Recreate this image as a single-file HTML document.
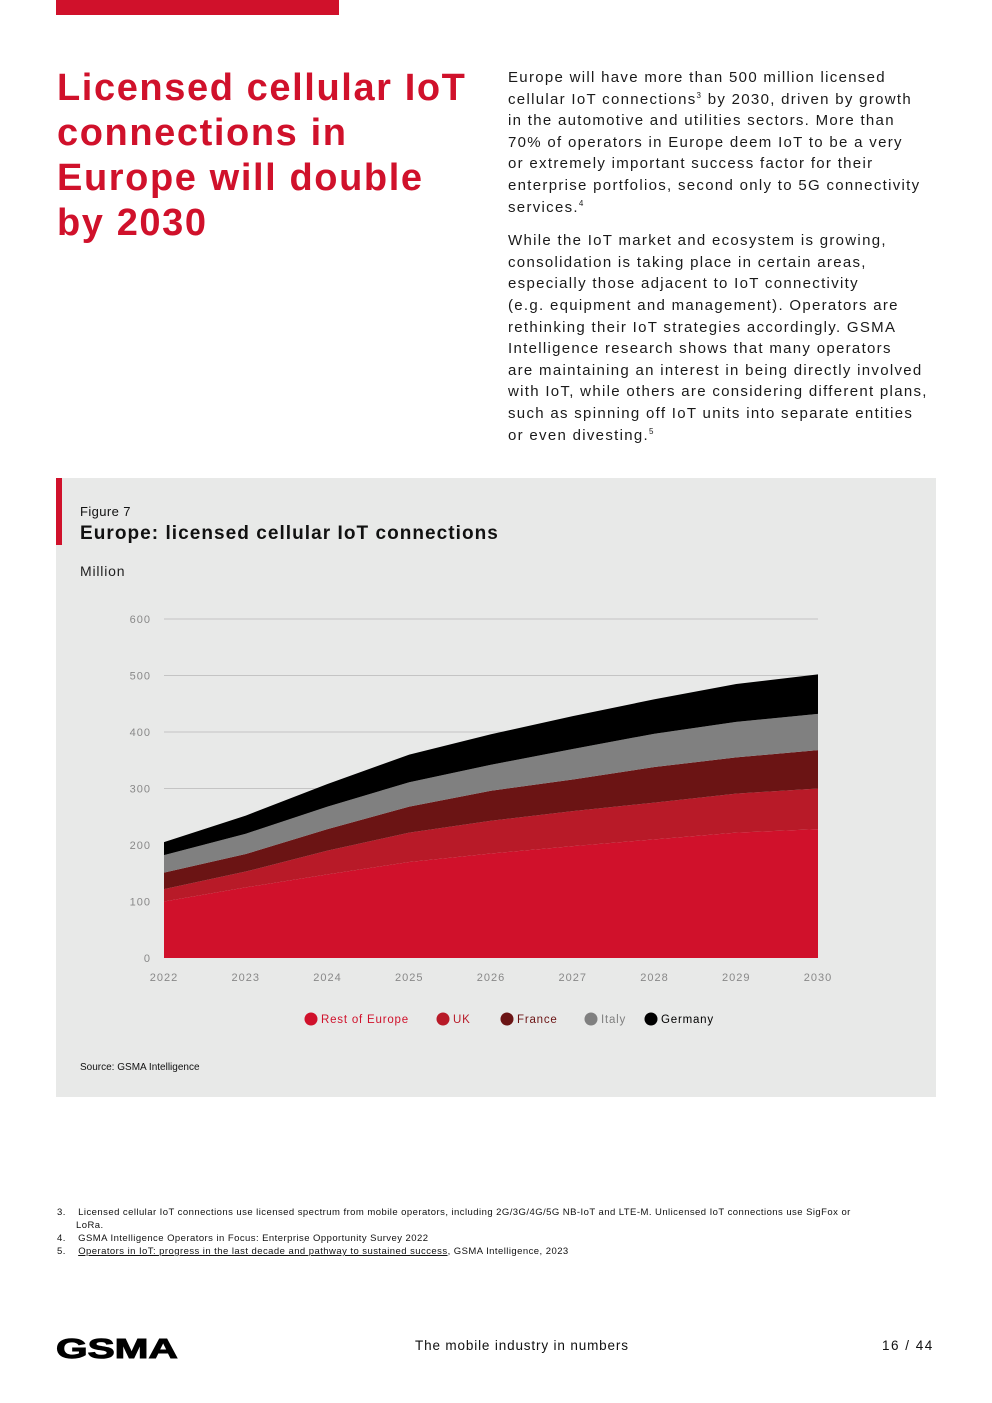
<!DOCTYPE html>
<html><head><meta charset="utf-8">
<style>
body{margin:0;background:#fff;font-family:"Liberation Sans",sans-serif;}
.page{position:relative;width:992px;height:1403px;overflow:hidden;}
.abs{position:absolute;}
h1{position:absolute;left:57px;top:66px;margin:0;font-size:38px;line-height:45px;color:#d0112b;font-weight:bold;letter-spacing:1.6px;white-space:nowrap;}
.body{left:508px;width:440px;font-size:15px;line-height:21.6px;color:#1a1a1a;letter-spacing:1.3px;white-space:nowrap;}
.body p{margin:0 0 12px 0;}
sup{font-size:8px;line-height:0;vertical-align:6px;}
.fn{left:57px;top:1206px;width:866px;font-size:9.5px;line-height:13px;color:#111;letter-spacing:0.45px;}
.fn div{padding-left:19px;text-indent:-19px;}
</style></head><body>
<div class="page">
<div class="abs" style="left:56px;top:0;width:283px;height:15px;background:#d0112b"></div>
<h1>Licensed cellular IoT<br>connections in<br>Europe will double<br>by 2030</h1>
<div class="abs body" style="top:67px">
<p>Europe will have more than 500 million licensed<br>cellular IoT connections<sup>3</sup> by 2030, driven by growth<br>in the automotive and utilities sectors. More than<br>70% of operators in Europe deem IoT to be a very<br>or extremely important success factor for their<br>enterprise portfolios, second only to 5G connectivity<br>services.<sup>4</sup></p>
<p>While the IoT market and ecosystem is growing,<br>consolidation is taking place in certain areas,<br>especially those adjacent to IoT connectivity<br>(e.g. equipment and management). Operators are<br>rethinking their IoT strategies accordingly. GSMA<br>Intelligence research shows that many operators<br>are maintaining an interest in being directly involved<br>with IoT, while others are considering different plans,<br>such as spinning off IoT units into separate entities<br>or even divesting.<sup>5</sup></p>
</div>
<div class="abs" style="left:56px;top:478px;width:880px;height:619px;background:#e8e9e8">
<div class="abs" style="left:0;top:0;width:6px;height:67px;background:#d0112b"></div>
<div class="abs" style="left:24px;top:26px;font-size:13px;color:#111;letter-spacing:0.4px">Figure 7</div>
<div class="abs" style="left:24px;top:45px;font-size:19px;font-weight:bold;color:#111;letter-spacing:1.05px">Europe: licensed cellular IoT connections</div>
<div class="abs" style="left:24px;top:85px;font-size:14px;color:#222;letter-spacing:0.8px">Million</div>
<div class="abs" style="left:24px;top:584px;font-size:10px;color:#111">Source: GSMA Intelligence</div>
</div>
<svg class="abs" style="left:0;top:0" width="992" height="1100" id="chart"></svg>
<div class="abs fn">
<div>3.&nbsp;&nbsp;&nbsp;&nbsp;Licensed cellular IoT connections use licensed spectrum from mobile operators, including 2G/3G/4G/5G NB-IoT and LTE-M. Unlicensed IoT connections use SigFox or<br>LoRa.</div>
<div>4.&nbsp;&nbsp;&nbsp;&nbsp;GSMA Intelligence Operators in Focus: Enterprise Opportunity Survey 2022</div>
<div>5.&nbsp;&nbsp;&nbsp;&nbsp;<u>Operators in IoT: progress in the last decade and pathway to sustained success</u>, GSMA Intelligence, 2023</div>
</div>
<div class="abs" style="left:56px;top:1333px;font-size:28px;font-weight:900;letter-spacing:0px;color:#000;transform:scaleX(1.45);transform-origin:left;-webkit-text-stroke:1px #000">GSMA</div>
<div class="abs" style="left:415px;top:1338px;font-size:13.5px;color:#111;letter-spacing:0.85px">The mobile industry in numbers</div>
<div class="abs" style="left:882px;top:1338px;font-size:13.5px;color:#111;letter-spacing:1.5px">16 / 44</div>
</div>
<script>
const years=[2022,2023,2024,2025,2026,2027,2028,2029,2030];
const seriesNames=["Rest of Europe","UK","France","Italy","Germany"];
const seriesColors=["#d0112b","#b81a28","#6b1414","#808080","#000000"];
const restOfEurope=[100,125,148,170,185,198,210,222,228];
const uk=[22,28,42,52,58,62,65,69,72];
const france=[29,31,38,46,53,56,63,64,68];
const italy=[31,36,40,43,46,54,59,63,64];
const germany=[23,32,40,49,54,58,61,67,70];
const yTicks=[0,100,200,300,400,500,600];
const S="http://www.w3.org/2000/svg";
const svg=document.getElementById('chart');
const x0=164,x1=818,yb=958,yt=619;
const xs=i=>x0+(x1-x0)*i/(years.length-1);
const ys=v=>yb-(yb-yt)*v/600;
function mk(t,a){const e=document.createElementNS(S,t);for(const k in a)e.setAttribute(k,a[k]);svg.appendChild(e);return e;}
yTicks.forEach(t=>{
 if(t>0){const l=mk('line',{x1:x0,x2:x1,y1:ys(t),y2:ys(t),stroke:'#c4c4c4','stroke-width':1});
 
 }
 const tx=mk('text',{x:151,y:ys(t)+4,'text-anchor':'end','font-size':11,fill:'#888','font-family':'Liberation Sans, sans-serif','letter-spacing':'1'});
 tx.textContent=t;
 
 
});
const data=[restOfEurope,uk,france,italy,germany];
let base=years.map(()=>0);
data.forEach((s,k)=>{
 const top=base.map((b,i)=>b+s[i]);
 let d='M'+years.map((_,i)=>xs(i)+','+ys(top[i])).join(' L');
 for(let i=years.length-1;i>=0;i--)d+=' L'+xs(i)+','+ys(base[i]);
 const p=mk('path',{d:d+'Z',fill:seriesColors[k]});
 
 
 base=top;
});
years.forEach((y,i)=>{
 const tx=mk('text',{x:xs(i),y:981,'text-anchor':'middle','font-size':11,fill:'#888','font-family':'Liberation Sans, sans-serif','letter-spacing':'1'});
 tx.textContent=y;
 
 
});
const lx=[311,443,507,591,651];
seriesNames.forEach((n,k)=>{
 const c=mk('circle',{cx:lx[k],cy:1019,r:6.5,fill:seriesColors[k]});
 
 
 const t=mk('text',{x:lx[k]+10,y:1023,'font-size':11.5,fill:k==4?'#000':seriesColors[k],'font-family':'Liberation Sans, sans-serif','letter-spacing':'0.8'});
 t.textContent=n;
 
 
});
</script>
</body></html>
